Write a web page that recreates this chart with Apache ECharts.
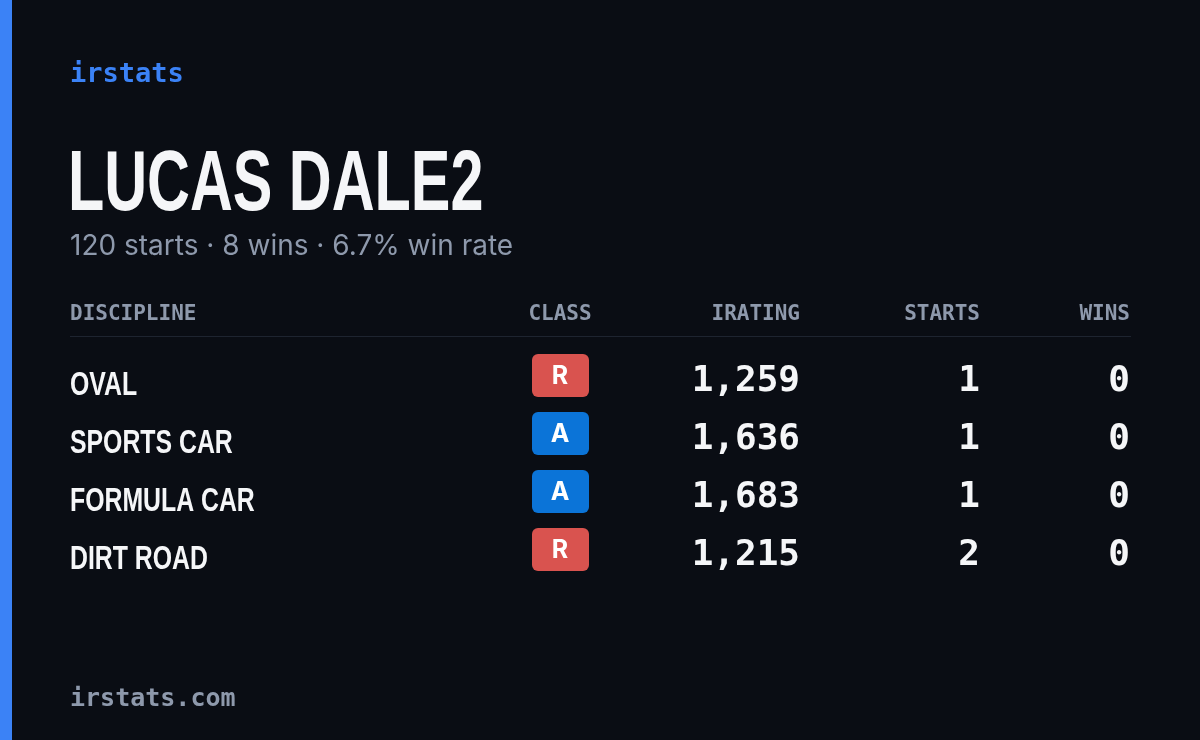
<!DOCTYPE html>
<html>
<head>
<meta charset="utf-8">
<script src="https://cdn.jsdelivr.net/npm/echarts@6/dist/echarts.min.js"></script>
<style>
  html, body { margin: 0; padding: 0; background: #0a0d14; }
  #main { width: 1200px; height: 740px; }
</style>
</head>
<body>
<div id="main"></div>
<script>
// card data
const driverName = 'LUCAS DALE2';
const summary = '120 starts · 8 wins · 6.7% win rate';
const headers = ['DISCIPLINE', 'CLASS', 'IRATING', 'STARTS', 'WINS'];
const disciplines = ['OVAL', 'SPORTS CAR', 'FORMULA CAR', 'DIRT ROAD'];
const classes = ['R', 'A', 'A', 'R'];
const iratings = [1259, 1636, 1683, 1215];
const starts = [1, 1, 1, 2];
const wins = [0, 0, 0, 0];

const classColors = { R: '#d9534f', A: '#0b74d8' };
const mono = '"DejaVu Sans Mono", monospace';
const cond = '"Liberation Sans", sans-serif';
const sans = 'Inter, "Noto Sans", sans-serif';

const chart = echarts.init(document.getElementById('main'));

const rowY0 = 382, rowStep = 58;
const elements = [
    { type: 'rect', shape: { x: 0, y: 0, width: 12, height: 740 }, style: { fill: '#3b82f6' } },
    { type: 'text', x: 70, y: 75, style: { text: 'irstats', fill: '#3b82f6', font: '600 27px ' + mono, verticalAlign: 'middle' } },
    // condensed look by squeezing horizontally
    { type: 'text', x: 68, y: 186, scaleX: 0.69, style: { text: driverName, fill: '#f5f6f8', font: 'bold 86px ' + cond, verticalAlign: 'middle' } },
    { type: 'text', x: 70, y: 247, style: { text: summary, fill: '#8e99ac', font: '28px ' + sans, verticalAlign: 'middle' } },
    { type: 'text', x: 70, y: 699, style: { text: 'irstats.com', fill: '#8e99ac', font: '600 25px ' + mono, verticalAlign: 'middle' } },
    { type: 'rect', shape: { x: 70, y: 336, width: 1061, height: 1 }, style: { fill: '#1e2430' } }
];

// header row: x anchor + alignment
const headerPos = [[70, 'left'], [560, 'center'], [800, 'right'], [980, 'right'], [1130, 'right']];
headers.forEach((h, i) => {
    elements.push({
        type: 'text', x: headerPos[i][0], y: 315,
        style: { text: h, fill: '#8e99ac', font: 'bold 21px ' + mono, align: headerPos[i][1], verticalAlign: 'middle' }
    });
});

disciplines.forEach((d, i) => {
    const y = rowY0 + i * rowStep;
    elements.push({ type: 'text', x: 70, y: y + 4, scaleX: 0.73, style: { text: d, fill: '#f5f6f8', font: 'bold 34px ' + cond, verticalAlign: 'middle' } });
    elements.push({ type: 'rect', shape: { x: 532, y: y - 28, width: 57, height: 43, r: 6 }, style: { fill: classColors[classes[i]] } });
    elements.push({ type: 'text', x: 560, y: y - 6, style: { text: classes[i], fill: '#ffffff', font: 'bold 25px ' + sans, align: 'center', verticalAlign: 'middle' } });
    elements.push({ type: 'text', x: 800, y: y, style: { text: iratings[i].toLocaleString('en-US'), fill: '#f5f6f8', font: 'bold 36px ' + mono, align: 'right', verticalAlign: 'middle' } });
    elements.push({ type: 'text', x: 980, y: y, style: { text: String(starts[i]), fill: '#f5f6f8', font: 'bold 36px ' + mono, align: 'right', verticalAlign: 'middle' } });
    elements.push({ type: 'text', x: 1130, y: y, style: { text: String(wins[i]), fill: '#f5f6f8', font: 'bold 36px ' + mono, align: 'right', verticalAlign: 'middle' } });
});

chart.setOption({
    backgroundColor: '#0a0d14',
    animation: false,
    graphic: { elements }
});
</script>
</body>
</html>
